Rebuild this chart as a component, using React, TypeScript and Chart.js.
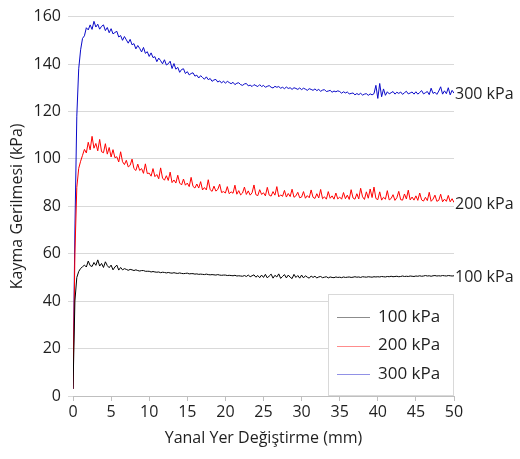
import React, { useEffect, useRef } from "react";
import { Chart, registerables } from "chart.js";

Chart.register(...registerables);

// Sampling step of the displacement readings (mm)
const STEP_MM = 0.25;
const X_TICKS_MAX = 50;
const Y_TICKS_MAX = 160;

const seriesLabels = ["100 kPa", "200 kPa", "300 kPa"];
const seriesColors = ["#000000", "#ff0000", "#0a0ac8"];

// Shear stress (kPa), one value every 0.25 mm from 0 to 50 mm
const shear100 = [
  3, 40, 50, 52.5, 53.8, 54.5, 55.2, 54.4, 56.9, 55.0, 54.6, 56.3, 55.1, 57.4, 54.8, 55.9, 54.2, 56.6, 55.0, 54.1,
  55.2, 53.2, 54.4, 55.2, 53.1, 54.2, 53.2, 53.7, 53.4, 53.0, 53.4, 53.2, 52.9, 53.2, 52.9, 52.7, 52.9, 52.9, 52.6, 52.6,
  52.6, 52.3, 52.5, 52.3, 52.2, 52.3, 52.0, 52.2, 52.1, 51.9, 52.1, 51.9, 51.8, 52.0, 51.8, 51.7, 51.9, 51.7, 51.6, 51.7,
  51.8, 51.5, 51.6, 51.6, 51.4, 51.5, 51.3, 51.4, 51.3, 51.2, 51.4, 51.2, 51.1, 51.2, 51.1, 51.0, 51.2, 51.0, 50.9, 51.0,
  51.0, 50.8, 50.9, 50.8, 50.7, 50.9, 50.6, 50.7, 50.6, 50.5, 50.8, 50.4, 51.0, 50.3, 50.7, 51.1, 50.1, 50.8, 49.9, 51.0,
  50.0, 51.3, 49.8, 50.6, 51.4, 49.7, 50.9, 50.2, 51.5, 49.6, 50.4, 51.2, 49.8, 51.0, 50.1, 49.5, 51.3, 50.0, 50.8, 49.7,
  51.0, 49.8, 50.7, 50.1, 49.7, 50.6, 50.0, 50.5, 49.8, 50.2, 50.4, 49.9, 50.1, 50.3, 49.8, 50.2, 50.0, 49.9, 50.2, 50.0,
  50.1, 49.9, 50.2, 50.0, 50.1, 50.2, 50.0, 50.1, 50.3, 50.1, 50.2, 50.0, 50.3, 50.2, 50.1, 50.3, 50.2, 50.1, 50.3, 50.2,
  50.3, 50.2, 50.4, 50.3, 50.2, 50.4, 50.3, 50.5, 50.3, 50.4, 50.5, 50.3, 50.4, 50.6, 50.4, 50.5, 50.4, 50.6, 50.5, 50.4,
  50.6, 50.5, 50.7, 50.5, 50.6, 50.8, 50.6, 50.7, 50.5, 50.7, 50.8, 50.6, 50.7, 50.6, 50.8, 50.7, 50.6, 50.8, 50.7, 50.6,
  50.7,
];

const shear200 = [
  3, 60, 88, 96, 99, 101.5, 104, 102.5, 107, 103.8, 109.5, 104.5, 106.5, 103.4, 108.2, 103.0, 102.6, 106.4, 102.0, 104.8,
  100.8, 103.9, 100.5, 100.9, 98.7, 103.0, 98.8, 97.6, 99.4, 96.6, 97.3, 99.9, 95.9, 95.1, 97.8, 95.1, 95.9, 93.9, 97.9, 93.8,
  94.0, 92.7, 95.9, 92.5, 93.4, 91.6, 96.2, 91.9, 91.0, 92.9, 90.9, 94.4, 90.0, 91.1, 89.8, 93.1, 89.8, 89.0, 91.5, 88.9,
  89.8, 88.3, 92.2, 88.4, 87.7, 89.4, 87.7, 90.4, 86.9, 87.9, 86.9, 91.2, 87.0, 86.3, 88.5, 86.4, 87.1, 89.3, 85.8, 86.2,
  85.6, 88.3, 85.3, 86.1, 85.5, 88.9, 85.1, 86.6, 84.8, 85.6, 88.1, 85.0, 86.5, 84.7, 85.7, 89.0, 84.9, 84.5, 87.0, 85.0,
  85.7, 84.4, 88.0, 84.7, 84.3, 86.2, 84.7, 88.3, 84.0, 84.8, 84.2, 86.7, 83.9, 85.4, 84.1, 87.2, 83.8, 84.4, 85.9, 83.6,
  83.9, 86.2, 83.4, 84.5, 83.6, 86.9, 83.8, 83.3, 85.3, 83.5, 87.1, 83.2, 84.0, 83.0, 86.2, 83.4, 84.4, 83.0, 85.6, 83.1,
  83.9, 83.0, 85.8, 83.2, 84.7, 82.9, 87.0, 83.5, 83.0, 85.3, 83.1, 87.6, 84.0, 82.9, 86.1, 83.4, 87.3, 83.7, 88.1, 83.3,
  82.8, 86.1, 82.6, 83.8, 83.0, 86.6, 82.7, 83.3, 84.9, 82.5, 83.6, 86.3, 82.8, 82.6, 85.2, 83.1, 86.8, 82.7, 83.9, 82.6,
  84.4, 82.5, 85.6, 82.7, 82.2, 83.8, 82.4, 85.9, 82.1, 83.0, 84.7, 82.1, 82.5, 85.1, 81.9, 83.0, 82.1, 84.6, 81.9, 83.2,
  81.6,
];

const shear300 = [
  3, 70, 118, 138, 146, 150.8, 151.9, 155.3, 154.4, 156.5, 154.6, 158.0, 155.6, 156.8, 154.7, 155.9, 156.5, 154.1, 155.4, 153.2,
  154.9, 152.7, 153.3, 153.8, 151.4, 152.0, 150.0, 151.6, 150.2, 148.8, 150.4, 148.1, 148.6, 146.4, 147.8, 146.6, 145.1, 147.0, 144.5, 145.2,
  143.2, 144.7, 142.7, 143.1, 141.0, 142.5, 141.4, 140.1, 141.8, 139.6, 140.1, 141.2, 138.1, 140.2, 137.8, 138.6, 136.5, 137.7, 138.0, 136.0,
  136.8, 135.4, 136.0, 136.3, 134.9, 135.3, 134.1, 135.1, 134.3, 133.6, 134.6, 133.4, 133.9, 132.7, 133.3, 133.5, 132.4, 132.9, 132.0, 132.8,
  131.9, 132.7, 132.2, 131.7, 132.3, 131.3, 131.9, 132.1, 131.3, 131.0, 131.6, 131.8, 130.8, 131.1, 130.5, 131.3, 130.9, 130.5, 131.3, 130.5,
  131.0, 130.2, 130.6, 130.9, 130.2, 129.9, 130.6, 130.2, 130.5, 129.8, 130.2, 129.6, 130.3, 129.7, 130.0, 129.3, 130.0, 129.7, 129.3, 129.9,
  129.2, 129.8, 129.4, 128.9, 129.6, 129.3, 128.9, 129.5, 128.8, 129.3, 128.5, 129.0, 129.2, 128.4, 128.6, 128.9, 128.1, 128.6, 128.3, 128.7,
  128.4, 127.7, 128.3, 127.8, 128.2, 127.4, 127.6, 127.8, 127.0, 127.55, 127.1, 127.65, 126.9, 127.3, 127.5, 126.8, 127.4, 127.0, 127.5, 131.0,
  125.5, 131.8, 126.2, 129.5, 126.8, 128.3, 127.4, 127.9, 128.4, 127.3, 128.1, 127.6, 128.2, 127.2, 127.9, 128.5, 127.4, 127.8, 128.2, 127.3,
  128.3, 127.3, 128.0, 128.8, 127.4, 127.9, 128.4, 127.1, 129.8, 127.6, 128.1, 127.2, 128.6, 130.4, 127.3, 128.7, 127.5, 130.0, 127.0, 128.9,
  127.7,
];

const allSeries = [shear100, shear200, shear300];

const FONT = "'Open Sans', sans-serif";
const TEXT_COLOR = "#1f1f1f";

const endLabels = {
  id: "endLabels",
  afterDatasetsDraw(chart: any) {
    const ctx = chart.ctx;
    ctx.save();
    ctx.font = `16px ${FONT}`;
    ctx.fillStyle = TEXT_COLOR;
    ctx.textAlign = "left";
    ctx.textBaseline = "middle";
    chart.data.datasets.forEach((ds: any, i: number) => {
      const meta = chart.getDatasetMeta(i);
      const last = meta.data[meta.data.length - 1];
      ctx.fillText(ds.label, chart.chartArea.right + 1, last.y + 1.5);
    });
    ctx.restore();
  },
};

const boxLegend = {
  id: "boxLegend",
  afterDraw(chart: any) {
    const ctx = chart.ctx;
    const area = chart.chartArea;
    const w = 126;
    const h = 102;
    const left = area.right - w;
    const top = area.bottom - h;
    ctx.save();
    ctx.fillStyle = "#ffffff";
    ctx.fillRect(left, top, w, h);
    ctx.strokeStyle = "#d9d9d9";
    ctx.lineWidth = 1;
    ctx.strokeRect(left + 0.5, top + 0.5, w - 1, h - 1);
    ctx.font = `17px ${FONT}`;
    ctx.textAlign = "left";
    ctx.textBaseline = "middle";
    chart.data.datasets.forEach((ds: any, i: number) => {
      const y = top + 23 + i * 28.5;
      ctx.globalAlpha = 0.45;
      ctx.strokeStyle = ds.borderColor;
      ctx.beginPath();
      ctx.moveTo(left + 9, Math.round(y) + 0.5);
      ctx.lineTo(left + 42, Math.round(y) + 0.5);
      ctx.stroke();
      ctx.globalAlpha = 1;
      ctx.fillStyle = TEXT_COLOR;
      ctx.fillText(ds.label, left + 50, y);
    });
    ctx.restore();
  },
};

export default function App() {
  const canvasRef = useRef<HTMLCanvasElement>(null);

  useEffect(() => {
    if (!canvasRef.current) return;
    Chart.defaults.font.family = FONT;
    const datasets = allSeries.map((values, s) => ({
      label: seriesLabels[s],
      data: values.map((v, i) => ({ x: i * STEP_MM, y: v })),
      borderColor: seriesColors[s],
      backgroundColor: seriesColors[s],
      borderWidth: 1,
      pointRadius: 0,
      tension: 0,
      borderJoinStyle: "bevel" as const,
    }));
    const chart = new Chart(canvasRef.current, {
      type: "line",
      data: { datasets },
      options: {
        responsive: false,
        animation: false,
        layout: { padding: { top: 15, right: 66, left: 0, bottom: 0 } },
        plugins: {
          legend: { display: false },
          tooltip: { enabled: false },
        },
        scales: {
          x: {
            type: "linear",
            min: 0,
            max: X_TICKS_MAX,
            afterFit(scale: any) {
              scale.height = 63;
            },
            ticks: {
              stepSize: 5,
              color: TEXT_COLOR,
              font: { size: 16, family: FONT },
              padding: 2,
              maxRotation: 0,
            },
            grid: {
              drawOnChartArea: false,
              drawTicks: true,
              tickLength: 5,
              color: "#bfbfbf",
            },
            border: { display: true, color: "#bfbfbf" },
            title: {
              display: true,
              text: "Yanal Yer Değiştirme (mm)",
              color: TEXT_COLOR,
              font: { size: 16, family: FONT },
              padding: { top: 0, bottom: 11 },
            },
          },
          y: {
            min: 0,
            max: Y_TICKS_MAX,
            afterFit(scale: any) {
              scale.width = 73;
            },
            ticks: {
              stepSize: 20,
              color: TEXT_COLOR,
              font: { size: 16, family: FONT },
              padding: 7,
            },
            grid: {
              color: "#d9d9d9",
              drawTicks: true,
              tickLength: 5,
            },
            border: { display: false },
            title: {
              display: true,
              text: "Kayma Gerilmesi (kPa)",
              color: TEXT_COLOR,
              font: { size: 16, family: FONT },
              padding: { top: 8, bottom: 0 },
            },
          },
        },
      },
      plugins: [endLabels, boxLegend],
    });
    return () => chart.destroy();
  }, []);

  return (
    <div style={{ position: "absolute", left: 0, top: 0, width: 520, height: 459, background: "#fff" }}>
      <canvas ref={canvasRef} width={520} height={459} style={{ display: "block" }} />
    </div>
  );
}
